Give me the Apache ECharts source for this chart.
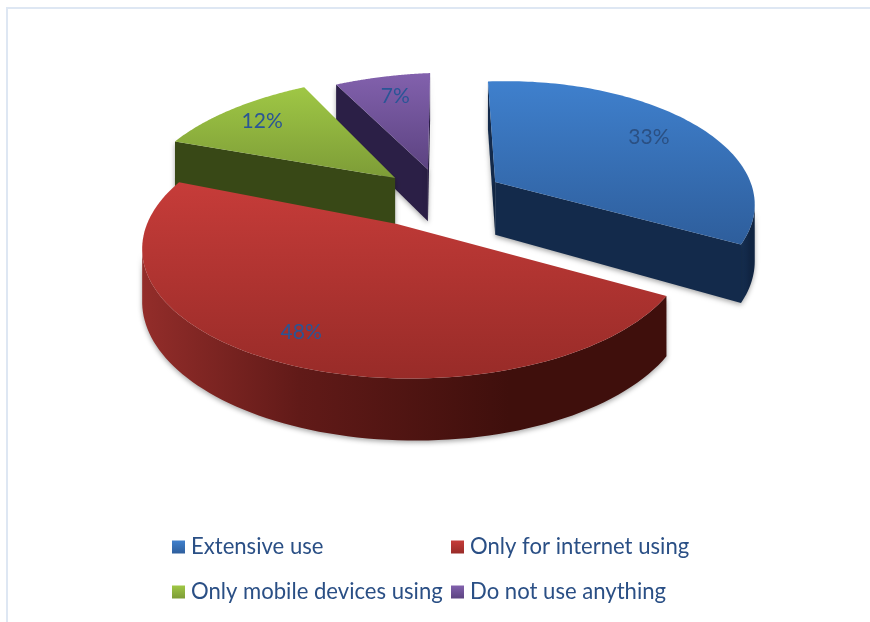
<!DOCTYPE html>
<html>
<head>
<meta charset="utf-8">
<style>html,body{margin:0;padding:0;background:#fff}#chart{width:870px;height:622px}</style>
<script src="https://cdn.jsdelivr.net/npm/echarts@6/dist/echarts.min.js"></script>
</head>
<body>
<div id="chart"></div>
<script>
// Usage shares, in percent, clockwise from twelve o'clock.
const categories = ['Extensive use', 'Only for internet using', 'Only mobile devices using', 'Do not use anything'];
const shares = [33, 48, 12, 7];

// Pulled-out offset of each wedge on the pie's own plane (unit = one radius).
const offsets = [[0.372, 0.339], [0, 0], [-0.019, 0.383], [0.111, 0.455]];
// Rim stretch of each wedge along the plane's two axes.
const rimScale = [[0.905, 1], [1.01, 1], [1.09, 1.07], [1.035, 1.01]];
const drawOrder = [3, 4, 2, 1];
const topColors = [['#3f80cd', '#2e5e9c'], ['#c63c39', '#982b28'], ['#9fc745', '#7d9c37'], ['#8261ad', '#5c4381']];
const sideColors = ['#132a4b', '#45100e', '#384816', '#2b1f46'];
const wallColors = [
  ['#183357', '#132a4b', '#102441'],
  ['#932d2a', '#611a18', '#3f0f0c'],
  ['#384816', '#384816', '#384816'],
  ['#2b1f46', '#2b1f46', '#2b1f46']
];
const labelColors = ['#2b5083', '#2a5596', '#2a5596', '#2a5596'];
const labelNudge = [[16, -2], [-3, 20], [-13, -7], [1, -6]];
const legendSpots = [[172, 536], [451, 536], [172, 581], [451, 581]];

// Perspective view of the pie plane.
const view = { x: 397, y: 224, radius: 265, depthScale: 127.9, tiltY: 0.17, tiltX: -0.07, drift: 8, height: 54, heightGain: 0.7 };

function project(X, Y, Z) {
  const s = 1 / (1 + view.tiltY * Y + view.tiltX * X);
  const drop = Z * view.height * (1 + view.heightGain * (s - 1));
  return [view.x + (view.radius * X + view.drift * Y) * s, view.y - view.depthScale * Y * s + drop];
}

function vGrad(stops) {
  return new echarts.graphic.LinearGradient(0, 0, 0, 1, [{ offset: 0, color: stops[0] }, { offset: 1, color: stops[1] }]);
}

const total = shares.reduce((a, b) => a + b, 0);
const shadow = { shadowBlur: 5, shadowColor: 'rgba(0,0,0,0.35)', shadowOffsetY: 2 };

function renderWedge(index, api) {
  const before = shares.slice(0, index).reduce((a, b) => a + b, 0);
  const start = before / total * Math.PI * 2;
  const end = (before + api.value(0)) / total * Math.PI * 2;
  const [ax, ay] = offsets[index];
  const [sx, sy] = rimScale[index];
  const onRim = (t) => [ax + sx * Math.sin(t), ay + sy * Math.cos(t)];
  const steps = 96;
  const rimTop = [];
  const rimBottom = [];
  for (let i = 0; i <= steps; i++) {
    const p = onRim(start + (end - start) * i / steps);
    rimTop.push(project(p[0], p[1], 0));
    rimBottom.push(project(p[0], p[1], 1));
  }
  const apexTop = project(ax, ay, 0);
  const apexBottom = project(ax, ay, 1);
  const children = [];

  // Outer wall: only the stretch of rim running right to left faces the viewer.
  const wallTop = [];
  const wallBottom = [];
  for (let i = 0; i <= steps; i++) {
    const next = rimTop[Math.min(i + 1, steps)][0] - rimTop[Math.max(i - 1, 0)][0];
    if (next < 0) { wallTop.push(rimTop[i]); wallBottom.unshift(rimBottom[i]); }
  }
  if (wallTop.length > 1) {
    const w = wallColors[index];
    children.push({
      type: 'polygon',
      shape: { points: wallTop.concat(wallBottom) },
      style: Object.assign({
        fill: new echarts.graphic.LinearGradient(0, 0, 1, 0, [
          { offset: 0, color: w[0] }, { offset: 0.3, color: w[1] }, { offset: 0.7, color: w[2] }, { offset: 1, color: w[2] }
        ])
      }, shadow)
    });
  }

  // Cut faces of the wedge, same visibility rule as the wall.
  const faces = [
    [apexTop, rimTop[0], rimBottom[0], apexBottom],
    [rimTop[steps], apexTop, apexBottom, rimBottom[steps]]
  ];
  faces.forEach((f) => {
    if (f[1][0] - f[0][0] < 0) {
      children.push({ type: 'polygon', shape: { points: f }, style: Object.assign({ fill: sideColors[index] }, shadow) });
    }
  });

  // Top surface.
  children.push({
    type: 'polygon',
    shape: { points: [apexTop].concat(rimTop) },
    style: { fill: vGrad(topColors[index]) }
  });

  // Value label, seven tenths of the way along the wedge's middle radius.
  const mid = (start + end) / 2;
  const at = project(ax + 0.7 * sx * Math.sin(mid), ay + 0.7 * sy * Math.cos(mid), 0);
  children.push({
    type: 'text',
    style: {
      x: at[0] + labelNudge[index][0], y: at[1] + labelNudge[index][1], text: api.value(0) + '%',
      fill: labelColors[index], font: '21px Lato, sans-serif',
      textAlign: 'center', textVerticalAlign: 'middle'
    }
  });
  return { type: 'group', children };
}

const chart = echarts.init(document.getElementById('chart'), null, { renderer: 'canvas' });
chart.setOption({
  animation: false,
  backgroundColor: '#ffffff',
  legend: categories.map((name, i) => ({
    data: [name],
    left: legendSpots[i][0],
    top: legendSpots[i][1],
    padding: 0,
    selectedMode: false,
    icon: 'rect',
    itemWidth: 13,
    itemHeight: 13,
    textStyle: { color: '#2a4f85', fontFamily: 'Lato, sans-serif', fontSize: 22.1, padding: [0, 0, 0, 1] }
  })),
  graphic: [{
    type: 'polyline',
    shape: { points: [[7, 622], [7, 8], [870, 8]] },
    style: { stroke: '#dee7f3', lineWidth: 2, fill: null },
    silent: true
  }],
  series: categories.map((name, i) => ({
    type: 'custom',
    name,
    coordinateSystem: 'none',
    z: drawOrder[i],
    itemStyle: { color: vGrad(topColors[i]) },
    data: [shares[i]],
    renderItem: (params, api) => renderWedge(i, api)
  }))
});
</script>
</body>
</html>
